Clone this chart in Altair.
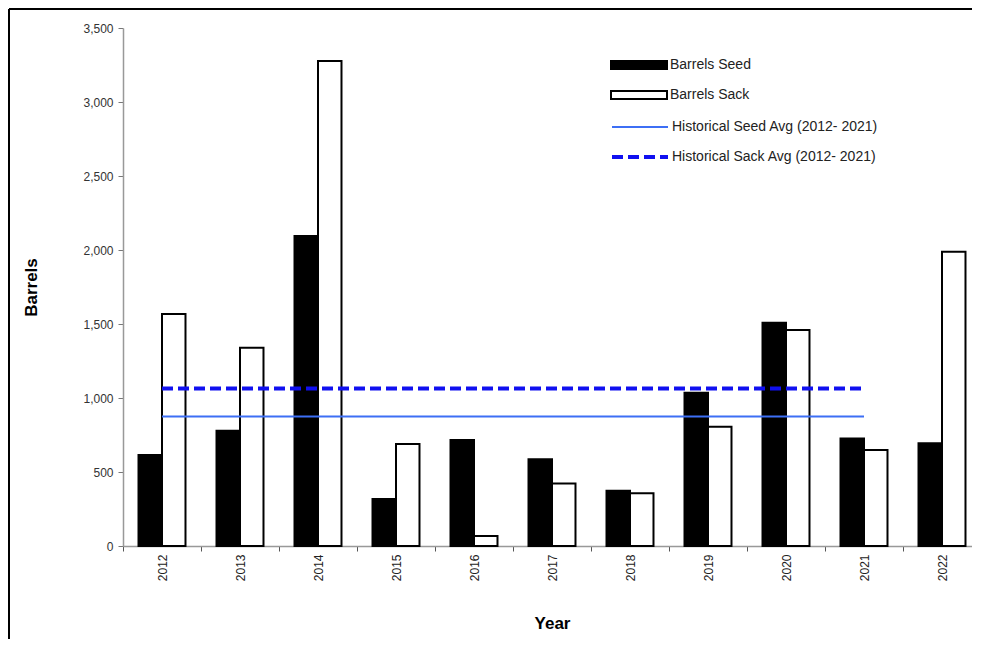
import altair as alt
import pandas as pd

years = ["2012", "2013", "2014", "2015", "2016", "2017", "2018", "2019", "2020", "2021", "2022"]
seed = [615, 779, 2095, 318, 716, 586, 374, 1036, 1509, 727, 694]
sack = [1568, 1340, 3277, 689, 68, 423, 356, 806, 1459, 649, 1989]
series_names = ["Barrels Seed", "Barrels Sack"]
avg_names = ["Historical Seed Avg (2012- 2021)", "Historical Sack Avg (2012- 2021)"]
avg_values = [875, 1064]
avg_span = ["2012", "2021"]
y_ticks = [0, 500, 1000, 1500, 2000, 2500, 3000, 3500]

bars_df = pd.DataFrame(
    [{"year": y, "series": series_names[0], "value": v} for y, v in zip(years, seed)]
    + [{"year": y, "series": series_names[1], "value": v} for y, v in zip(years, sack)]
)
avg_df = pd.DataFrame(
    [{"year": yr, "name": n, "value": v} for n, v in zip(avg_names, avg_values) for yr in avg_span]
)

W, H = 858, 518
FONT = "Liberation Sans"

x_enc = alt.X(
    "year:N",
    sort=years,
    scale=alt.Scale(domain=years, paddingInner=0, paddingOuter=0),
    axis=alt.Axis(
        title="Year",
        labelAngle=270,
        labelFontSize=12,
        labelColor="#222222",
        labelPadding=3,
        tickBand="extent",
        tickSize=5,
        tickColor="#555555",
        domainColor="#999999",
        domainWidth=1.5,
        titleFontSize=17,
        titleFontWeight="bold",
        titleColor="black",
        titlePadding=35,
    ),
)
y_enc = alt.Y(
    "value:Q",
    scale=alt.Scale(domain=[0, 3500], nice=False),
    axis=alt.Axis(
        values=y_ticks,
        format=",.0f",
        title="Barrels",
        grid=False,
        labelFontSize=12,
        labelColor="#333333",
        labelPadding=5,
        tickSize=5,
        tickColor="#777777",
        domainColor="#999999",
        domainWidth=1.5,
        titleFontSize=17,
        titleFontWeight="bold",
        titleColor="black",
        titlePadding=42,
    ),
)

bars = alt.Chart(bars_df).mark_bar(stroke="black", strokeWidth=2).encode(
    x=x_enc,
    xOffset=alt.XOffset(
        "series:N",
        sort=series_names,
        scale=alt.Scale(domain=series_names, paddingInner=0, paddingOuter=0.66),
    ),
    y=y_enc,
    fill=alt.Fill(
        "series:N",
        scale=alt.Scale(domain=series_names, range=["black", "white"]),
        legend=alt.Legend(
            title=None,
            orient="none",
            legendX=487,
            legendY=27,
            symbolType="M-1,-0.14H1V0.14H-1Z",
            symbolSize=3136,
            symbolStrokeColor="black",
            symbolStrokeWidth=2,
            clipHeight=20,
            rowPadding=10,
            labelFontSize=14,
            labelColor="#222222",
            labelOffset=2,
            labelLimit=300,
            padding=0,
        ),
    ),
)

line_legend = alt.Legend(
    title=None,
    orient="none",
    legendX=487,
    legendY=89,
    symbolType="stroke",
    symbolSize=3136,
    clipHeight=20,
    rowPadding=10,
    labelFontSize=14,
    labelColor="#222222",
    labelOffset=2,
    labelLimit=300,
    padding=0,
)

lines = alt.Chart(avg_df).mark_line().encode(
    x=alt.X("year:N", sort=years),
    y=alt.Y("value:Q"),
    color=alt.Color("name:N", sort=avg_names,
                    scale=alt.Scale(domain=avg_names, range=["#3d6ff5", "#1010f0"]),
                    legend=line_legend),
    strokeDash=alt.StrokeDash("name:N", sort=avg_names,
                              scale=alt.Scale(domain=avg_names, range=[[1, 0], [11, 5]]),
                              legend=line_legend),
    strokeWidth=alt.StrokeWidth("name:N", sort=avg_names,
                                scale=alt.Scale(domain=avg_names, range=[2, 4]),
                                legend=line_legend),
)

frame_data = alt.Data(values=[{}])
left_border = alt.Chart(frame_data).mark_rule(color="black", strokeWidth=2).encode(
    x=alt.value(-114), y=alt.value(-19), y2=alt.value(612)
)
top_border = alt.Chart(frame_data).mark_rule(color="black", strokeWidth=2).encode(
    x=alt.value(-114), x2=alt.value(W), y=alt.value(-19)
)

chart = (
    alt.layer(bars, lines, left_border, top_border)
    .properties(width=W, height=H, padding={"left": 0, "top": 0, "right": -10, "bottom": -2},
                background="white")
    .configure(font=FONT)
    .configure_view(stroke=None)
)

chart.save("out.html", embed_options={"renderer": "svg", "actions": False})
